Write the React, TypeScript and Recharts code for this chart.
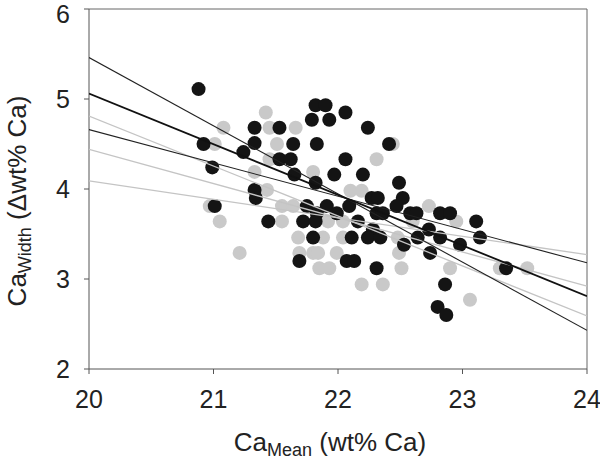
import React from "react";
import {
  ScatterChart,
  Scatter,
  XAxis,
  YAxis,
  ReferenceLine,
} from "recharts";

// black group (Ca mean vs Ca width)
const blackMean = [
  20.88, 20.92, 20.99, 21.01, 21.24, 21.33, 21.33, 21.33, 21.34, 21.44,
  21.53, 21.53, 21.62, 21.64, 21.65, 21.69, 21.75, 21.72, 21.79, 21.82,
  21.9, 21.83, 21.82, 21.8, 21.83, 21.82, 21.91, 21.93, 21.97, 21.99,
  22.06, 22.06, 22.09, 22.07, 22.13, 22.16, 22.11, 22.2, 22.24, 22.27,
  22.32, 22.31, 22.36, 22.28, 22.24, 22.34, 22.31, 22.41, 22.49, 22.52,
  22.47, 22.58, 22.63, 22.53, 22.64, 22.73, 22.74, 22.82, 22.82, 22.9,
  22.98, 23.11, 23.14, 22.86, 22.8, 22.87, 23.35,
];
const blackWidth = [
  5.11, 4.5, 4.24, 3.81, 4.41, 4.68, 4.51, 3.99, 3.9, 3.64,
  4.68, 4.33, 4.33, 4.5, 4.16, 3.2, 3.81, 3.64, 4.77, 4.93,
  4.93, 4.5, 4.07, 3.46, 3.73, 3.64, 3.81, 4.77, 4.16, 3.73,
  4.85, 4.33, 3.81, 3.2, 3.2, 3.64, 3.46, 4.16, 4.68, 3.9,
  3.9, 3.73, 3.73, 3.55, 3.46, 3.46, 3.12, 4.5, 4.07, 3.9,
  3.81, 3.73, 3.73, 3.38, 3.46, 3.55, 3.29, 3.46, 3.73, 3.73,
  3.38, 3.64, 3.46, 2.94, 2.69, 2.6, 3.12,
];

// gray group
const grayMean = [
  21.42, 21.08, 21.01, 21.45, 21.66, 21.51, 22.31, 22.44, 21.33, 21.45,
  21.8, 21.43, 20.97, 21.05, 21.21, 21.55, 21.64, 21.55, 21.68, 21.88,
  21.69, 21.8, 21.84, 21.99, 21.85, 21.93, 22.04, 22.04, 21.92, 22.1,
  22.19, 22.19, 22.36, 22.51, 22.49, 22.48, 22.73, 22.9, 22.95, 23.06,
  23.52, 23.3, 22.6,
];
const grayWidth = [
  4.85, 4.68, 4.5, 4.68, 4.68, 4.5, 4.33, 4.5, 4.19, 4.33,
  4.19, 3.99, 3.81, 3.64, 3.29, 3.81, 3.81, 3.64, 3.46, 3.46,
  3.29, 3.29, 3.29, 3.29, 3.12, 3.12, 3.46, 3.64, 3.64, 3.98,
  3.98, 2.94, 2.94, 3.12, 3.29, 3.46, 3.81, 3.12, 3.64, 2.77,
  3.12, 3.12, 3.64,
];

// regression line end points at x = 20 and x = 24
const lineEnds = [20, 24];
const blackFit = [5.06, 2.81];
const blackSteep = [5.46, 2.43];
const blackShallow = [4.66, 3.18];
const grayFit = [4.44, 2.92];
const graySteep = [4.81, 2.59];
const grayShallow = [4.09, 3.27];

const xTicks = [20, 21, 22, 23, 24];
const yTicks = [2, 3, 4, 5, 6];

const toPoints = (xs: number[], ys: number[]) =>
  xs.map((x, i) => ({ x, y: ys[i] }));

const FONT = "'Liberation Sans', Arial, Helvetica, sans-serif";

const dot = (fill: string) => (props: any) =>
  <circle cx={props.cx} cy={props.cy} r={7} fill={fill} />;

const noShape = () => <g />;

function XLabel() {
  return (
    <text x={330} y={451} textAnchor="middle" fontFamily={FONT} fill="#222">
      <tspan fontSize={26}>Ca</tspan>
      <tspan fontSize={18} dy={5}>Mean</tspan>
      <tspan fontSize={26} dy={-5}> (wt% Ca)</tspan>
    </text>
  );
}

function YLabel() {
  return (
    <text
      x={0}
      y={0}
      transform="translate(26, 201) rotate(-90)"
      textAnchor="middle"
      fontFamily={FONT}
      fill="#222"
    >
      <tspan fontSize={26}>Ca</tspan>
      <tspan fontSize={18} dy={5}>Width</tspan>
      <tspan fontSize={26} dy={-5}> (Δwt% Ca)</tspan>
    </text>
  );
}

export default function App() {
  const tick = { fill: "#222", fontSize: 25, fontFamily: FONT };
  const fitLine = (ys: number[]) => toPoints(lineEnds, ys);
  return (
    <div style={{ position: "absolute", left: 0, top: 0, background: "#fff" }}>
      <ScatterChart
        width={600}
        height={464}
        margin={{ top: 9, right: 13, left: 0, bottom: 0 }}
      >
        <XAxis
          type="number"
          dataKey="x"
          domain={[20, 24]}
          ticks={xTicks}
          height={95}
          tickSize={5}
          tickMargin={16}
          tick={tick}
          stroke="#555"
          allowDataOverflow
          label={<XLabel />}
        />
        <YAxis
          type="number"
          dataKey="y"
          domain={[2, 6]}
          ticks={yTicks}
          width={89}
          tickSize={5}
          tickMargin={14}
          tick={tick}
          stroke="#555"
          allowDataOverflow
          label={<YLabel />}
        />
        <ReferenceLine y={6} stroke="#666" />
        <ReferenceLine x={24} stroke="#666" />
        <Scatter
          data={toPoints(grayMean, grayWidth)}
          shape={dot("#c9c9c9")}
          isAnimationActive={false}
        />
        <Scatter
          data={toPoints(blackMean, blackWidth)}
          shape={dot("#141414")}
          isAnimationActive={false}
        />
        {[grayFit, graySteep, grayShallow].map((ys, i) => (
          <Scatter
            key={`g${i}`}
            data={fitLine(ys)}
            line={{ stroke: "#c4c4c4", strokeWidth: 1.3 }}
            shape={noShape}
            isAnimationActive={false}
          />
        ))}
        {[blackSteep, blackShallow].map((ys, i) => (
          <Scatter
            key={`b${i}`}
            data={fitLine(ys)}
            line={{ stroke: "#222", strokeWidth: 1.1 }}
            shape={noShape}
            isAnimationActive={false}
          />
        ))}
        <Scatter
          data={fitLine(blackFit)}
          line={{ stroke: "#111", strokeWidth: 1.8 }}
          shape={noShape}
          isAnimationActive={false}
        />
      </ScatterChart>
    </div>
  );
}
